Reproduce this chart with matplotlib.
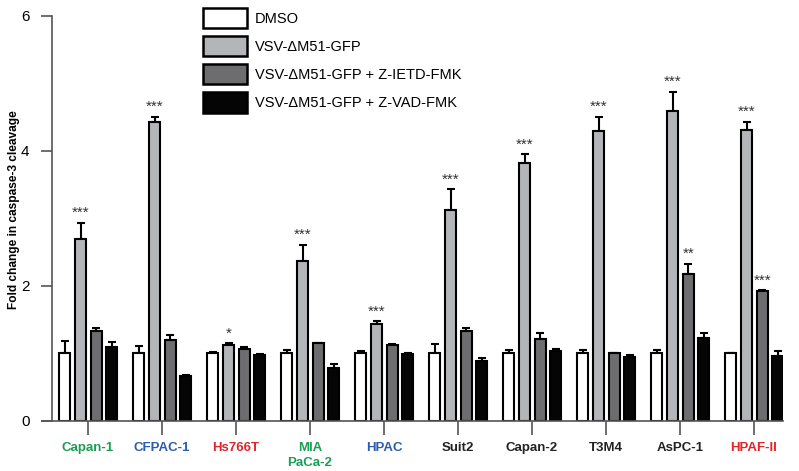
import numpy as np
import matplotlib
matplotlib.use('Agg')
import matplotlib.pyplot as plt

plt.rcParams['font.family'] = ['Liberation Sans', 'DejaVu Sans']

cells = ['Capan-1', 'CFPAC-1', 'Hs766T', 'MIA\nPaCa-2', 'HPAC',
         'Suit2', 'Capan-2', 'T3M4', 'AsPC-1', 'HPAF-II']
cellColors = ['#1a9e55', '#2d5caa', '#e0252b', '#1a9e55', '#2d5caa',
              '#222222', '#222222', '#222222', '#222222', '#e0252b']

series = ['DMSO', 'VSV-\u0394M51-GFP', 'VSV-\u0394M51-GFP + Z-IETD-FMK',
          'VSV-\u0394M51-GFP + Z-VAD-FMK']

dmso = [1.0, 1.0, 1.0, 1.0, 1.0, 1.0, 1.0, 1.0, 1.0, 1.0]
dmsoErr = [0.19, 0.11, 0.02, 0.05, 0.03, 0.14, 0.05, 0.05, 0.05, 0.0]
vsv = [2.70, 4.43, 1.13, 2.37, 1.43, 3.13, 3.82, 4.30, 4.59, 4.31]
vsvErr = [0.24, 0.08, 0.02, 0.24, 0.05, 0.30, 0.13, 0.21, 0.29, 0.12]
ietd = [1.33, 1.20, 1.07, 1.15, 1.12, 1.33, 1.21, 1.01, 2.18, 1.92]
ietdErr = [0.05, 0.07, 0.02, 0.0, 0.02, 0.04, 0.10, 0.0, 0.15, 0.02]
zvad = [1.10, 0.67, 0.98, 0.78, 0.99, 0.89, 1.03, 0.95, 1.23, 0.96]
zvadErr = [0.07, 0.01, 0.01, 0.06, 0.01, 0.05, 0.04, 0.03, 0.07, 0.08]

vsvStars = ['***', '***', '*', '***', '***', '***', '***', '***', '***', '***']
ietdStars = ['', '', '', '', '', '', '', '', '**', '***']

fig = plt.figure(figsize=(7.99, 4.71), dpi=100)
ax = fig.add_axes([0.0526, 0.1062, 0.927, 0.8600])

x = np.arange(len(cells))
w = 0.148
offsets = [-0.31, -0.095, 0.115, 0.32]
fills = ['white', '#b4b5b9', '#6d6d6f', '#050505']
values = [dmso, vsv, ietd, zvad]
errs = [dmsoErr, vsvErr, ietdErr, zvadErr]

for i in range(4):
    ax.bar(x + offsets[i], values[i], w, color=fills[i], edgecolor='black',
           linewidth=1.5, label=series[i], zorder=2)
    e = np.array(errs[i])
    ax.errorbar(x + offsets[i], values[i], yerr=[np.zeros_like(e), e], fmt='none',
                ecolor='black', elinewidth=1.5, capsize=3.2, capthick=1.5, zorder=1)

for i in range(len(cells)):
    ax.text(x[i] + offsets[1], vsv[i] + vsvErr[i] + 0.04, vsvStars[i],
            ha='center', va='bottom', fontsize=11, color='#333333')
    if ietdStars[i]:
        ax.text(x[i] + offsets[2], ietd[i] + ietdErr[i] + 0.04, ietdStars[i],
                ha='center', va='bottom', fontsize=11, color='#333333')

ax.set_xlim(-0.62, 9.39)
ax.set_ylim(0, 6)
ax.spines['top'].set_visible(False)
ax.spines['right'].set_visible(False)
ax.spines['left'].set_position(('data', -0.49))
ax.spines['left'].set_bounds(0, 6)
for s in ['left', 'bottom']:
    ax.spines[s].set_color('#555555')
    ax.spines[s].set_linewidth(1.2)

ax.set_yticks([0, 2, 4, 6])
ax.tick_params(axis='y', direction='out', length=8, width=1.2, color='#555555',
               labelsize=11, pad=8)
ax.set_xticks(x)
ax.set_xticklabels(cells, fontsize=9.5, fontweight='bold')
ax.tick_params(axis='x', direction='out', length=10, width=1.2, color='#555555', pad=5)
for lab, c in zip(ax.get_xticklabels(), cellColors):
    lab.set_color(c)
    lab.set_linespacing(1.4)

ax.set_ylabel('Fold change in caspase-3 cleavage', fontsize=8.6, fontweight='bold')
ax.yaxis.set_label_coords(-0.030, 0.523)

leg = ax.legend(loc='upper left', bbox_to_anchor=(0.217, 1.02), frameon=False,
                fontsize=10.5, handlelength=3.0, handleheight=1.75,
                labelspacing=0.55, handletextpad=0.55, borderpad=0, borderaxespad=0)
for p in leg.get_patches():
    p.set_linewidth(1.8)

fig.savefig('out.png', dpi=100)
